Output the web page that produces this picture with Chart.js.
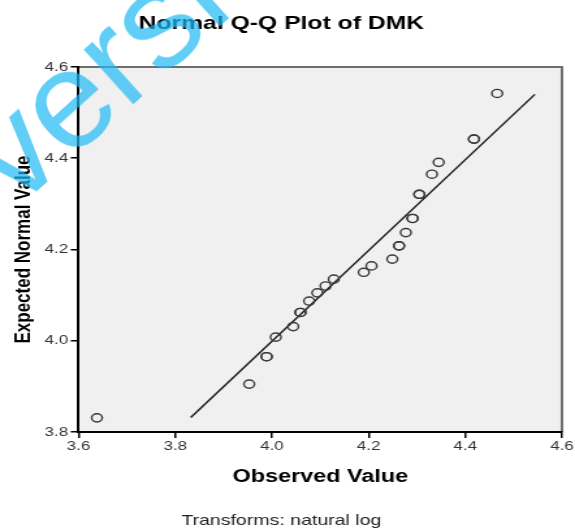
<!DOCTYPE html>
<html>
<head>
<meta charset="utf-8">
<script src="https://cdn.jsdelivr.net/npm/chart.js@4/dist/chart.umd.min.js"></script>
<style>
  html, body { margin: 0; padding: 0; background: #fff; }
  #wrap { position: relative; width: 575px; height: 531px; overflow: hidden; }
  #qq { position: absolute; left: 0; top: 0; transform-origin: 0 0; transform: scaleX(1.3009); }
  #mark {
    position: absolute; left: 31px; top: 86px;
    font: 140px "Liberation Sans", Arial, sans-serif; line-height: 1;
    color: rgba(30, 185, 245, 0.7); white-space: nowrap;
    transform-origin: 0 100%; transform: rotate(-42deg);
    pointer-events: none;
  }
</style>
</head>
<body>
<div id="wrap">
  <canvas id="qq" width="442" height="531"></canvas>
  <div id="mark">version</div>
</div>
<script>
// observed (natural log) vs expected normal value
const observed = [3.638, 3.953, 3.989, 3.989, 4.008, 4.044, 4.059, 4.059, 4.077, 4.094, 4.111, 4.128,
  4.190, 4.206, 4.249, 4.263, 4.263, 4.277, 4.291, 4.291, 4.305, 4.305, 4.331, 4.345, 4.418, 4.418, 4.466];
const expected = [3.831, 3.905, 3.965, 3.965, 4.008, 4.031, 4.062, 4.062, 4.087, 4.105, 4.120, 4.135,
  4.150, 4.164, 4.179, 4.208, 4.208, 4.237, 4.268, 4.268, 4.321, 4.321, 4.365, 4.391, 4.442, 4.442, 4.542];

// reference line ends
const lineX = [3.832, 4.544];
const lineY = [3.832, 4.540];

const xTicks = [3.6, 3.8, 4.0, 4.2, 4.4, 4.6];
const yTicks = [3.8, 4.0, 4.2, 4.4, 4.6];

const FONT = '"Liberation Sans", Arial, sans-serif';

const plotBg = {
  id: 'plotBg',
  beforeDraw(chart) {
    const { ctx, chartArea: a } = chart;
    ctx.save();
    ctx.fillStyle = '#f0f0f0';
    ctx.fillRect(a.left, a.top, a.right - a.left, a.bottom - a.top);
    ctx.strokeStyle = '#6e6e6e';
    ctx.lineWidth = 2;
    ctx.beginPath();
    ctx.moveTo(a.left, a.top);
    ctx.lineTo(a.right, a.top);
    ctx.lineTo(a.right, a.bottom);
    ctx.stroke();
    ctx.restore();
  }
};

new Chart(document.getElementById('qq'), {
  type: 'scatter',
  data: {
    datasets: [{
      data: observed.map((x, i) => ({ x, y: expected[i] })),
      pointStyle: 'circle',
      pointRadius: 4.1,
      pointHoverRadius: 4.1,
      borderWidth: 1.4,
      borderColor: '#3a3a3a',
      backgroundColor: 'rgba(0,0,0,0)',
    }, {
      type: 'line',
      data: lineX.map((x, i) => ({ x, y: lineY[i] })),
      borderColor: '#1e1e1e',
      borderWidth: 1.5,
      pointRadius: 0,
      fill: false,
    }],
  },
  options: {
    responsive: false,
    animation: false,
    layout: { padding: { left: 0, right: 9.5, top: 0, bottom: 0 } },
    plugins: {
      legend: { display: false },
      tooltip: { enabled: false },
      title: {
        display: true,
        text: 'Normal Q-Q Plot of DMK',
        color: '#000',
        font: { family: FONT, size: 19, weight: 'bold' },
        padding: { top: 12, bottom: 32.2 },
      },
      subtitle: {
        display: true,
        position: 'bottom',
        text: 'Transforms: natural log',
        color: '#222',
        font: { family: FONT, size: 15 },
        padding: { top: 10, bottom: 1 },
      },
    },
    scales: {
      x: {
        type: 'linear',
        min: 3.6, max: 4.6,
        afterBuildTicks: s => { s.ticks = xTicks.map(v => ({ value: v })); },
        afterFit: s => { s.height = 70; },
        ticks: { color: '#333', font: { family: FONT, size: 13 }, padding: 1,
          callback: v => v.toFixed(1) },
        grid: { drawOnChartArea: false, drawTicks: true, tickLength: 6, color: '#000', lineWidth: 1.5 },
        border: { color: '#000', width: 2 },
        title: {
          display: true, text: 'Observed Value', color: '#000',
          font: { family: FONT, size: 18, weight: 'bold' },
          padding: { top: 0, bottom: 14 },
        },
      },
      y: {
        type: 'linear',
        min: 3.8, max: 4.6,
        afterBuildTicks: s => { s.ticks = yTicks.map(v => ({ value: v })); },
        afterFit: s => { s.width = 60.4; },
        ticks: { color: '#333', font: { family: FONT, size: 13 }, padding: 2,
          callback: v => v.toFixed(1) },
        grid: { drawOnChartArea: false, drawTicks: true, tickLength: 6, color: '#000', lineWidth: 1.5 },
        border: { color: '#000', width: 2 },
        title: {
          display: true, text: 'Expected Normal Value', color: '#000',
          font: { family: FONT, size: 17, weight: 'bold' },
          padding: { top: 8.6, bottom: 0 },
        },
      },
    },
  },
  plugins: [plotBg],
});
</script>
</body>
</html>
